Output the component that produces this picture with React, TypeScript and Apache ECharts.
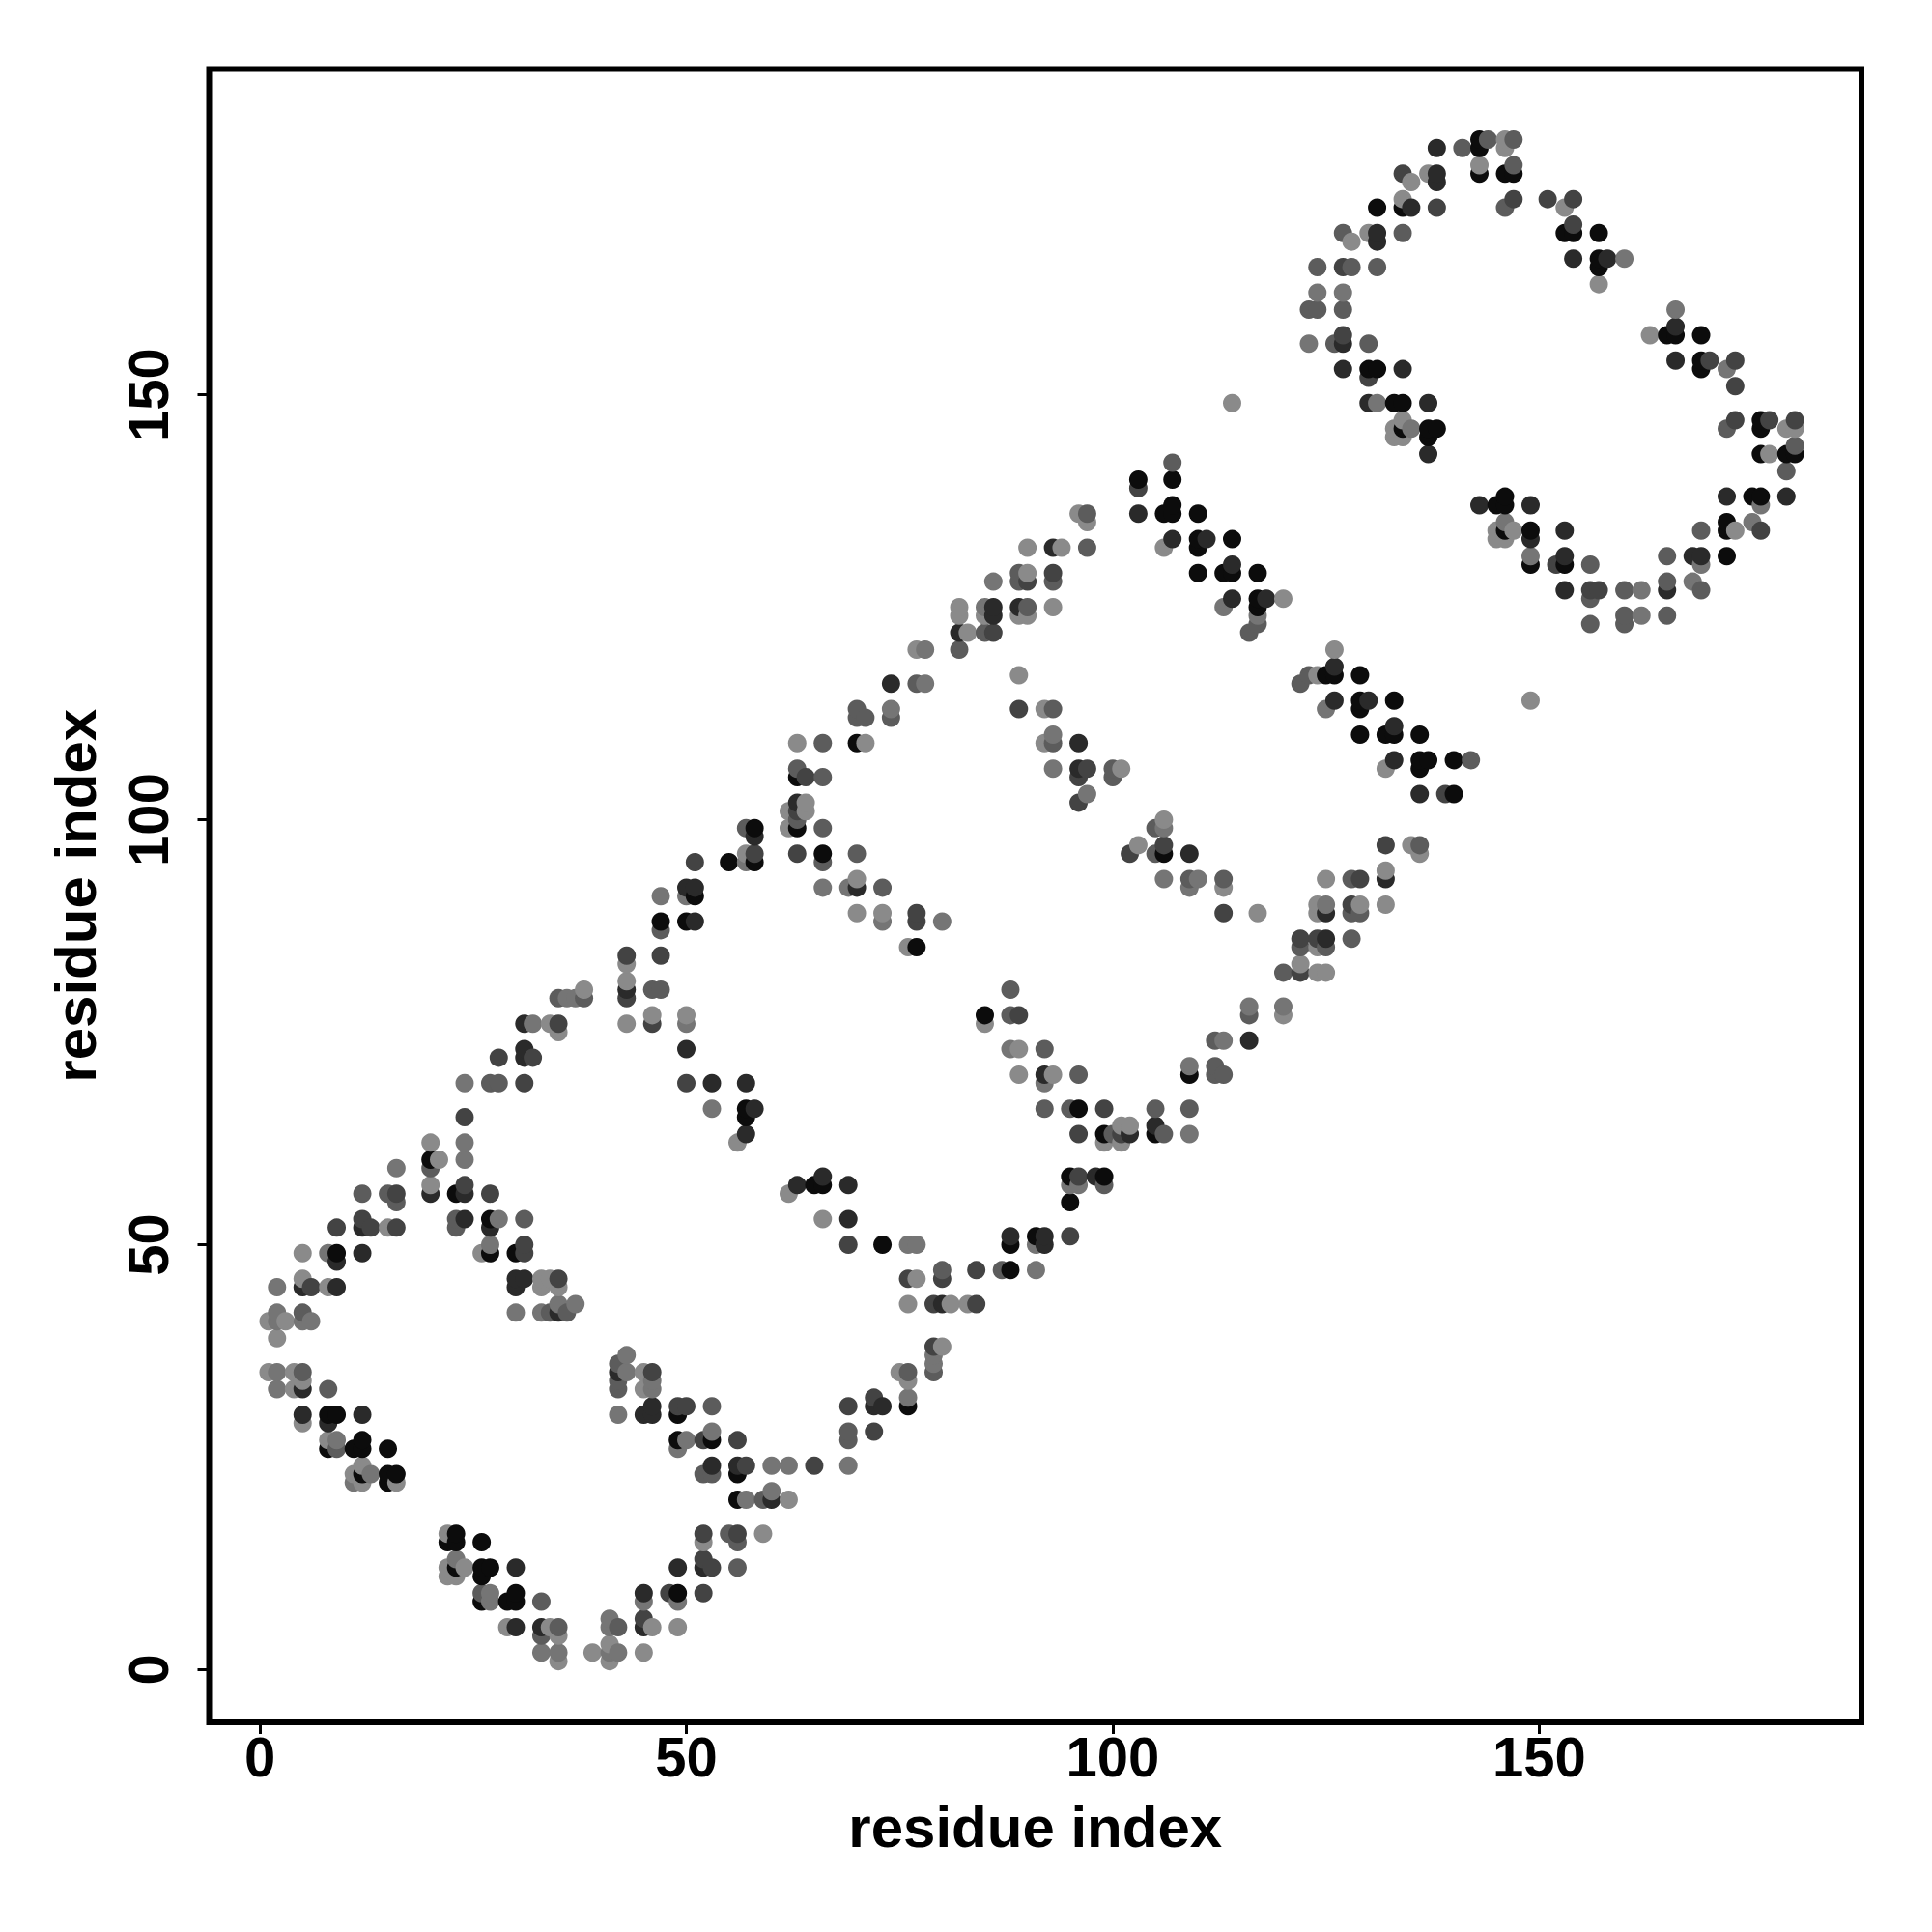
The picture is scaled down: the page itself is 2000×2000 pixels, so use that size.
import React, { useEffect, useRef } from "react";
import * as echarts from "echarts";

const shades = ["#0c0c0c", "#2a2a2a", "#434343", "#5c5c5c", "#757575", "#8a8a8a"];
const tickValues = [0, 50, 100, 150];
const axisName = "residue index";

// each contact is [residue x, residue y, shade index]
const arcA = [
  [24,65,2],[20,62,5],[24,62,4],[21,60,5],[20,60,0],[24,60,4],[20,59,3],[16,59,4],[20,57,5],[20,56,1],[12,56,3],[15,56,3],[16,56,2],[16,55,3],
  [23,56,0],[24,57,2],[24,56,1],[27,56,2],[9,52,2],[12,53,2],[12,52,1],[13,52,2],[15,52,5],[16,52,2],[23,53,3],[23,52,3],[24,53,1],[27,53,0],[28,53,4],[27,52,1],[31,53,3],
  [5,49,5],[8,49,4],[9,49,0],[9,48,1],[12,49,1],[26,49,5],[27,49,0],[27,50,4],[30,49,0],[31,50,2],[31,49,2],
  [2,45,4],[5,46,5],[5,45,1],[6,45,2],[8,45,5],[9,45,1],[30,46,1],[31,46,1],[30,45,1],[33,46,5],[34,46,5],[35,46,2],[33,45,5],[35,45,5],
  [2,42,4],[5,42,3],[1,41,5],[2,41,4],[3,41,5],[5,41,4],[6,41,4],[2,39,5],[30,42,4],[33,42,4],[34,42,3],[35,42,1],[36,42,3],[35,43,4],[37,43,4],
  [1,35,5],[2,35,4],[4,35,5],[5,35,3],[5,34,5],[2,33,4],[4,33,5],[5,33,1],[8,33,3],[5,30,1],[5,29,5],[8,30,0],[9,30,0],[8,29,1],[12,30,1],
  [8,27,5],[9,27,4],[8,26,0],[9,26,3],[11,26,0],[12,27,0],[12,26,0],[15,26,0],[11,23,5],[12,24,5],[12,23,0],[13,23,4],[11,22,4],[12,22,5],[15,23,0],[16,23,0],[15,22,0],[16,22,5],
];
const arcB = [
  [22,16,5],[23,16,0],[22,15,0],[23,15,0],[26,15,0],[23,13,4],[22,12,5],[23,12,0],[24,12,5],[22,11,5],[23,11,5],[26,12,0],[27,12,0],[26,11,0],[30,12,1],
  [26,9,3],[27,9,4],[26,8,0],[27,8,4],[29,8,0],[30,9,0],[30,8,0],[33,8,3],[29,5,5],[30,5,1],[33,5,1],[33,4,3],[34,5,5],[35,5,3],[35,4,5],[33,2,4],[35,2,4],[35,1,5],
  [39,2,5],[41,6,4],[41,5,4],[42,5,3],[41,3,5],[41,2,4],[42,2,4],[41,1,5],[45,2,5],[45,6,2],[45,5,1],[46,5,5],[49,5,5],[45,8,4],[45,9,1],[48,9,2],[49,9,0],[49,8,4],[52,9,2],
  [49,12,1],[52,13,2],[52,12,1],[53,12,2],[56,12,3],[52,16,2],[52,15,5],[55,16,3],[56,16,2],[56,15,3],[59,16,5],
];
const innerA = [
  [43,37,4],[42,36,3],[42,35,1],[43,35,4],[42,34,3],[42,33,3],[42,30,4],[45,35,5],[46,35,2],[46,34,4],[45,33,5],[46,33,4],[45,30,1],[46,31,1],[46,30,1],[49,31,2],[50,31,2],[49,30,0],[53,31,3],
  [49,27,0],[50,27,4],[49,26,4],[52,27,2],[53,27,0],[53,28,4],[56,27,2],[52,23,3],[53,24,1],[53,23,3],[56,24,1],[57,24,2],[56,23,0],[60,24,4],[62,24,4],[65,24,2],
  [56,20,0],[57,20,4],[59,20,3],[60,21,4],[60,20,1],[62,20,5],
];
const lowerBand = [
  [79,38,2],[80,38,5],[79,37,4],[79,36,4],[79,35,3],[75,35,5],[76,35,3],[76,34,5],[76,32,4],[76,31,0],[72,32,2],[72,31,1],[73,31,1],[69,31,2],[69,28,3],[69,27,3],[72,28,2],[69,24,4],
  [76,43,5],[79,43,2],[80,43,1],[81,43,5],[83,43,5],[84,43,2],[80,47,3],[80,46,2],[76,46,2],[77,46,5],[84,47,2],[87,47,3],[88,47,0],[91,47,4],
  [88,51,1],[88,50,0],[91,51,0],[92,51,1],[91,50,4],[92,50,1],[95,51,2],[95,55,0],[95,58,0],[96,58,2],[95,57,4],[96,57,4],[98,58,1],[99,58,0],[99,57,3],
  [96,63,2],[99,63,0],[100,63,3],[99,62,5],[101,64,5],[102,64,5],[101,63,2],[102,63,1],[101,62,5],[105,64,1],[105,63,0],[106,63,3],[109,63,4],[105,66,3],[109,66,3],
  [109,71,4],[109,70,0],[112,71,3],[112,70,3],[113,70,3],[112,74,3],[113,74,4],[116,74,1],[116,78,4],[116,77,3],[120,78,4],[120,77,5],
  [120,82,3],[122,83,5],[122,82,2],[124,82,5],[125,82,5],[122,86,2],[122,85,3],[124,86,2],[125,86,1],[124,85,5],[125,85,3],[128,86,3],
  [124,90,5],[125,90,4],[124,89,5],[125,89,1],[128,90,2],[129,90,5],[128,89,3],[129,89,3],[125,93,5],[128,93,3],[129,93,2],[132,94,5],[132,93,1],[132,90,5],[132,97,2],[135,97,5],[136,97,3],[136,96,5],
];
const middleA = [
  [24,69,4],[27,69,3],[28,69,3],[31,69,2],[28,72,2],[31,73,1],[31,72,1],[32,72,2],[31,76,1],[32,76,4],[34,76,5],[35,76,2],[35,75,5],[35,79,3],[36,79,4],[37,79,4],[38,80,5],[38,79,3],
  [43,84,2],[43,83,5],[43,81,5],[43,80,1],[43,79,2],[43,76,5],[46,80,3],[47,80,3],[46,77,5],[46,76,2],[47,84,2],
  [47,91,4],[50,92,1],[51,92,1],[50,91,4],[51,91,0],[47,88,0],[47,87,3],[50,88,0],[51,88,1],[55,95,0],[51,95,2],
  [57,99,3],[58,99,0],[58,98,1],[57,96,5],[58,96,2],[57,95,4],[58,95,0],[50,77,5],[50,76,4],[50,73,1],[50,69,2],[53,69,1],[57,69,1],[53,66,4],[57,66,0],[58,66,1],[57,65,0],[57,63,1],[56,62,5],
  [63,57,1],[65,57,0],[66,58,1],[66,57,0],[69,57,1],[62,56,5],[66,53,5],[69,53,1],[69,50,2],[73,50,0],[76,50,4],[77,50,4],
];
const middleB = [
  [63,109,5],[66,109,3],[70,109,0],[71,109,5],[63,106,3],[63,105,0],[64,105,2],[66,105,3],[63,102,1],[64,102,5],[62,101,5],[63,101,2],[64,101,5],[63,100,3],[62,99,5],[63,99,0],[66,99,3],
  [63,96,2],[66,96,0],[66,95,3],[70,96,3],[66,92,4],[69,92,4],[70,93,5],[70,92,1],[73,92,3],[70,89,5],[73,89,5],[73,88,4],[77,89,2],[77,88,2],[80,88,4],[76,85,5],[77,85,0],
  [70,113,3],[70,112,3],[71,112,3],[74,113,4],[74,112,3],[74,116,1],[77,116,3],[78,116,4],[77,120,5],[78,120,4],[82,120,3],[82,125,5],[82,124,5],[82,122,1],[83,122,5],
  [85,125,4],[86,125,1],[85,124,5],[86,124,1],[89,125,1],[90,125,3],[89,124,5],[90,124,5],[93,125,5],[85,122,3],[86,122,2],[86,128,4],[89,129,3],[90,129,5],[89,128,3],[90,128,2],[93,129,2],[93,128,3],
  [90,132,5],[93,132,1],[94,132,5],[97,132,3],[97,136,3],[96,136,5],[97,135,5],
  [85,77,0],[85,76,5],[88,77,3],[89,77,2],[88,80,3],[88,73,4],[89,73,5],[92,73,3],[89,70,5],[92,70,1],[93,70,5],[92,69,4],[96,70,3],[92,66,3],[95,66,3],[96,66,0],[99,66,2],
  [89,117,5],[89,113,2],[92,113,5],[93,113,3],[93,110,4],[92,109,5],[93,109,3],[96,109,1],[93,106,4],[96,106,1],[97,106,2],[96,105,2],[100,106,3],[101,106,5],[100,105,3],[97,103,4],[96,102,2],
  [106,100,5],[105,99,3],[106,99,4],[103,97,5],[102,96,2],[106,97,2],[105,96,3],[106,96,0],[109,96,1],[106,93,4],[109,93,3],[110,93,4],[109,92,4],[113,93,3],[113,92,5],[113,89,2],[117,89,5],
];
const upperBand = [
  [107,142,3],[103,140,0],[103,139,2],[107,140,0],[103,136,1],[106,136,0],[107,137,0],[107,136,0],[110,136,0],[107,133,1],[106,132,5],[110,133,0],[111,133,1],[110,132,0],[114,133,0],
  [110,129,0],[113,129,0],[114,130,1],[114,129,0],[117,129,0],[114,126,1],[113,125,4],[117,126,0],[118,126,1],[117,125,0],[120,126,5],[117,124,4],[117,123,3],[116,122,3],
  [126,120,5],[126,118,1],[123,117,3],[124,117,5],[125,117,0],[126,117,0],[129,117,0],[122,116,3],[126,114,1],[125,113,4],[129,114,0],[130,114,1],[129,113,0],[133,114,0],
  [129,110,0],[132,110,0],[133,111,1],[133,110,0],[136,110,0],[133,107,1],[132,106,5],[136,107,0],[137,107,0],[136,106,0],[140,107,0],[142,107,3],[136,103,1],[139,103,2],[140,103,0],
  [149,114,5],[114,149,5],
];
const ringTop = [
  [138,179,1],[141,179,3],[143,180,0],[143,179,0],[144,180,3],[146,180,5],[147,180,3],[146,179,5],[143,177,5],[143,176,0],[146,176,0],[147,177,3],[147,176,0],
  [134,176,2],[135,175,5],[137,176,5],[138,176,1],[138,175,1],[147,173,2],[146,172,3],[151,173,2],[154,173,2],[153,172,5],[131,172,0],[134,173,5],[134,172,0],[135,172,1],[138,172,2],
  [154,170,2],[153,169,0],[154,169,0],[157,169,0],[127,169,3],[128,168,5],[130,169,5],[131,169,1],[131,168,1],[134,169,3],[154,166,1],[157,166,0],[158,166,1],[157,165,0],[160,166,4],[157,163,5],
  [124,165,3],[127,165,2],[128,165,3],[131,165,3],[124,162,4],[127,162,4],[123,160,3],[124,160,3],[127,160,3],[123,156,4],[126,156,3],[127,157,2],[127,156,1],[130,156,3],
];
const ringRight = [
  [166,160,4],[166,158,1],[163,157,5],[165,157,0],[166,157,0],[169,157,0],[166,154,1],[169,154,0],[170,154,2],[169,153,0],[172,153,4],[173,154,2],[173,151,2],
  [173,147,2],[172,146,3],[176,147,0],[177,147,2],[176,146,0],[179,146,5],[180,147,2],[180,146,5],[176,143,0],[177,143,5],[179,143,0],[180,144,3],[180,143,0],[179,141,3],
  [172,138,1],[175,138,0],[176,138,0],[176,137,4],[179,138,1],[172,135,0],[172,134,0],[173,134,5],[175,135,4],[176,134,2],[169,134,3],
  [165,131,3],[168,131,1],[169,131,1],[169,130,4],[172,131,0],[165,128,3],[165,127,1],[168,128,4],[169,127,3],[165,124,3],[162,127,4],[160,127,3],[162,124,4],[160,124,3],[160,123,3],[156,123,3],
];
const ringBottom = [
  [153,127,1],[156,127,2],[157,127,2],[156,126,3],[156,130,3],[153,131,1],[153,130,0],[152,130,2],[153,134,1],[149,130,0],[149,131,4],[149,134,0],[149,133,1],
  [143,137,1],[145,137,0],[146,138,0],[146,137,0],[149,137,1],[146,135,4],[145,134,5],[146,134,0],[147,134,5],[145,133,5],[146,133,5],
];
const ringLeft = [
  [130,149,1],[131,149,4],[133,149,0],[134,149,0],[137,149,1],[134,147,5],[133,146,5],[134,146,0],[135,146,4],[133,145,5],[134,145,5],[137,146,0],[138,146,0],[137,145,0],[137,143,1],
  [127,153,1],[130,153,0],[131,153,0],[134,153,1],[130,152,2],
];

const contacts = [
  ...arcA, ...arcB, ...innerA, ...lowerBand, ...middleA, ...middleB, ...upperBand, ...ringTop, ...ringRight, ...ringBottom, ...ringLeft,
].sort((p, q) => p[0] - q[0] || p[1] - q[1]);

const font = "'Liberation Sans', Arial, sans-serif";

const axisCommon = {
  type: "value",
  name: axisName,
  nameLocation: "middle",
  nameTextStyle: { fontFamily: font, fontWeight: "bold", fontSize: 60, color: "#000" },
  splitLine: { show: false },
  axisLine: { show: false, onZero: false },
  axisTick: { show: true, length: 12, lineStyle: { color: "#000", width: 3 }, customValues: tickValues },
};

export default function App() {
  const ref = useRef<HTMLDivElement>(null);
  useEffect(() => {
    const chart = echarts.init(ref.current!, null, { renderer: "svg" });
    chart.setOption({
      animation: false,
      backgroundColor: "#fff",
      grid: { left: 216.5, top: 71.5, width: 1710.5, height: 1711.5, show: true, borderColor: "#000", borderWidth: 6, backgroundColor: "transparent" },
      xAxis: {
        ...axisCommon,
        min: -5.96,
        max: 187.8,
        nameGap: 78,
        axisLabel: { fontFamily: font, fontWeight: "bold", fontSize: 58, color: "#000", margin: 6, customValues: tickValues, formatter: (v: number) => String(v) },
      },
      yAxis: {
        ...axisCommon,
        min: -6.2,
        max: 188.3,
        nameGap: 108,
        axisLabel: { fontFamily: font, fontWeight: "bold", fontSize: 58, color: "#000", rotate: 90, margin: 34, customValues: tickValues, formatter: (v: number) => String(v) },
      },
      series: [
        {
          type: "scatter",
          symbol: "circle",
          symbolSize: 19,
          silent: true,
          data: contacts.map((p) => ({ value: [p[0], p[1]], itemStyle: { color: shades[p[2]], opacity: 1 } })),
        },
      ],
    });
    return () => chart.dispose();
  }, []);
  return <div ref={ref} style={{ position: "absolute", left: 0, top: 0, width: 2000, height: 2000 }} />;
}
